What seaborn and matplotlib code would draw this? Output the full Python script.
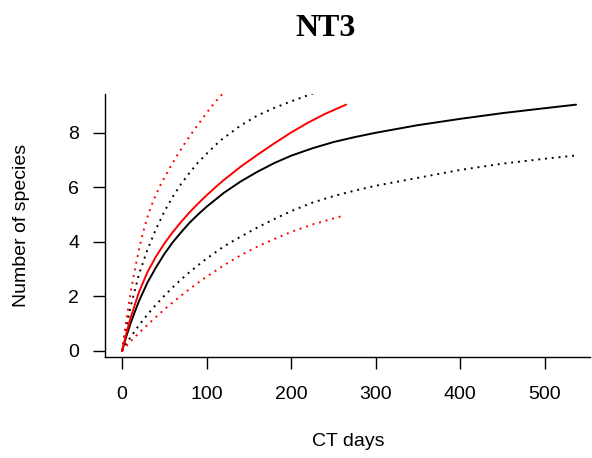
import matplotlib
matplotlib.use("Agg")
import matplotlib.pyplot as plt
import numpy as np
import pandas as pd
import seaborn as sns

# ---- data ----
blk_x = [0, 5, 10, 15, 20, 30, 40, 50, 60, 70, 80, 90, 100, 120, 140, 160, 180,
         200, 225, 250, 275, 300, 350, 400, 450, 500, 537]
blk_y = [0, 0.52, 1.0, 1.42, 1.82, 2.5, 3.05, 3.55, 3.98, 4.35, 4.7, 5.0, 5.28,
         5.78, 6.2, 6.56, 6.88, 7.15, 7.42, 7.65, 7.83, 7.99, 8.27, 8.5, 8.71, 8.89, 9.02]

blk_lo_x = [0, 5, 10, 20, 30, 40, 50, 60, 70, 80, 90, 100, 120, 140, 160, 180,
            200, 225, 250, 275, 300, 350, 400, 450, 500, 537]
blk_lo_y = [0, 0.26, 0.5, 0.94, 1.33, 1.69, 2.02, 2.33, 2.62, 2.89, 3.14, 3.38,
            3.82, 4.18, 4.52, 4.83, 5.12, 5.43, 5.67, 5.87, 6.05, 6.34, 6.63, 6.86, 7.04, 7.16]

blk_hi_x = [0, 5, 10, 20, 30, 40, 50, 60, 70, 80, 90, 100, 116, 140, 160, 180, 200, 224, 240]
blk_hi_y = [0, 0.85, 1.6, 2.8, 3.7, 4.45, 5.1, 5.65, 6.12, 6.53, 6.9, 7.22, 7.7,
            8.25, 8.62, 8.9, 9.14, 9.41, 9.58]

red_x = [0, 5, 10, 20, 30, 40, 50, 60, 70, 80, 90, 100, 110, 120, 140, 160, 180,
         200, 220, 240, 265]
red_y = [0, 0.62, 1.2, 2.15, 2.88, 3.45, 3.93, 4.35, 4.73, 5.08, 5.4, 5.7, 5.98,
         6.25, 6.74, 7.18, 7.6, 8.0, 8.36, 8.68, 9.02]

red_hi_x = [0, 5, 10, 15, 20, 25, 30, 37, 45, 55, 65, 75, 85, 95, 105, 116, 125]
red_hi_y = [0, 1.1, 2.1, 2.95, 3.7, 4.35, 4.9, 5.5, 6.05, 6.62, 7.15, 7.64, 8.08,
            8.5, 8.92, 9.32, 9.62]

red_lo_x = [0, 5, 10, 20, 30, 40, 50, 60, 70, 80, 90, 100, 120, 140, 160, 180,
            200, 225, 250, 264]
red_lo_y = [0, 0.18, 0.35, 0.66, 0.95, 1.24, 1.52, 1.78, 2.03, 2.27, 2.5, 2.72,
            3.13, 3.5, 3.82, 4.1, 4.36, 4.63, 4.85, 4.97]

x_ticks = [0, 100, 200, 300, 400, 500]
y_ticks = [0, 2, 4, 6, 8]
title = "NT3"
x_label = "CT days"
y_label = "Number of species"

sns.set_style("white")
plt.rcParams["font.family"] = ["Liberation Sans", "DejaVu Sans"]
plt.rcParams["text.color"] = "black"

fig = plt.figure(figsize=(5.92, 4.58), dpi=100)
ax = fig.add_axes([105 / 592, 1 - 357 / 458, 485 / 592, 263 / 458])

dot = (0, (1, 2.5))
curves = [
    (blk_x, blk_y, "black", "-"),
    (blk_lo_x, blk_lo_y, "black", dot),
    (blk_hi_x, blk_hi_y, "black", dot),
    (red_x, red_y, "#ff0000", "-"),
    (red_hi_x, red_hi_y, "#ff0000", dot),
    (red_lo_x, red_lo_y, "#ff0000", dot),
]
for xs, ys, col, ls in curves:
    df = pd.DataFrame({"x": xs, "y": ys})
    sns.lineplot(data=df, x="x", y="y", ax=ax, color=col, linestyle=ls,
                 linewidth=1.4, sort=False, estimator=None)

ax.set_xlim(-20.1, 553.5)
ax.set_ylim(-0.22, 9.41)
ax.set_xticks(x_ticks)
ax.set_yticks(y_ticks)
ax.set_xticklabels([str(v) for v in x_ticks])
ax.set_yticklabels([str(v) for v in y_ticks])
for s in ["top", "right"]:
    ax.spines[s].set_visible(False)
for s in ["left", "bottom"]:
    ax.spines[s].set_color("black")
    ax.spines[s].set_linewidth(1.0)
ax.tick_params(axis="both", which="major", bottom=True, left=True,
               direction="out", length=8.6, width=1.0,
               colors="black", labelcolor="black", labelsize=14)
ax.tick_params(axis="x", pad=12.5)
ax.tick_params(axis="y", pad=10)
ax.set_xlabel("")
ax.set_ylabel("")

fig.text(348 / 592, 1 - 441 / 458, x_label, ha="center", va="center", fontsize=14)
fig.text(22 / 592, 1 - 225 / 458, y_label, ha="center", va="center",
         rotation=90, fontsize=14)
fig.text(326 / 592, 1 - 28 / 458, title, ha="center", va="center",
         fontsize=23, fontweight="bold", family=["Liberation Serif", "DejaVu Serif"])

fig.savefig("out.png", dpi=100)
